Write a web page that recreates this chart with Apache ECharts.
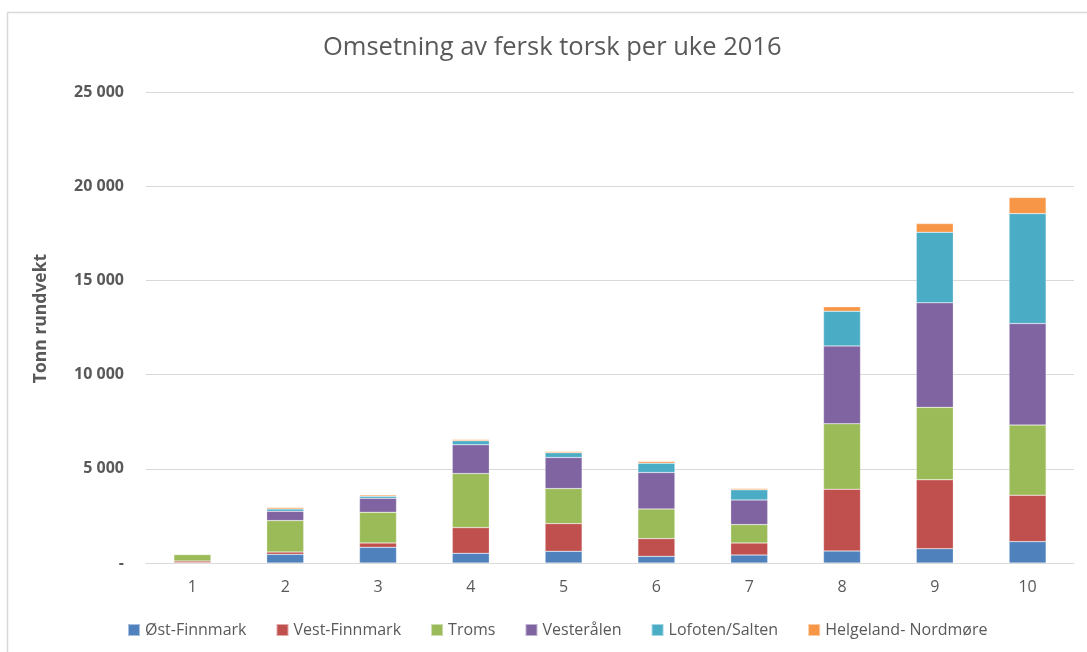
<!DOCTYPE html>
<html>
<head>
<meta charset="utf-8">
<script src="https://cdn.jsdelivr.net/npm/echarts@6/dist/echarts.min.js"></script>
<style>
html,body{margin:0;padding:0;background:#fff;}
#chart{width:1087px;height:652px;}
</style>
</head>
<body>
<div id="chart"></div>
<script>
const categories = ['1','2','3','4','5','6','7','8','9','10'];
const seriesNames = ['Øst-Finnmark','Vest-Finnmark','Troms','Vesterålen','Lofoten/Salten','Helgeland- Nordmøre'];
const ostFinnmark   = [10, 460, 833, 514, 620, 354, 425, 638, 762, 1135];
const vestFinnmark  = [90, 125, 230, 1365, 1470, 940, 638, 3280, 3652, 2465];
const troms         = [350, 1665, 1630, 2870, 1860, 1578, 975, 3475, 3848, 3723];
const vesteralen    = [30, 495, 745, 1525, 1650, 1932, 1312, 4131, 5550, 5390];
const lofotenSalten = [20, 125, 106, 212, 248, 496, 532, 1844, 3741, 5833];
const helgeland     = [20, 70, 70, 70, 70, 88, 70, 230, 461, 851];
const yTicks = [0, 5000, 10000, 15000, 20000, 25000];

const dataSets = [ostFinnmark, vestFinnmark, troms, vesteralen, lofotenSalten, helgeland];
const colors = ['#4F81BD','#C0504D','#9BBB59','#8064A2','#4BACC6','#F79646'];

const chart = echarts.init(document.getElementById('chart'));
chart.setOption({
  animation: false,
  color: colors,
  title: {
    text: 'Omsetning av fersk torsk per uke 2016',
    left: 318,
    top: 30,
    textStyle: { fontFamily: 'Open Sans', fontSize: 25.5, fontWeight: 'normal', color: '#595959' }
  },
  graphic: [{
    type: 'rect',
    shape: { x: 7.5, y: 12.5, width: 1100, height: 700 },
    style: { fill: 'none', stroke: '#D9D9D9', lineWidth: 1.5 },
    silent: true
  }],
  legend: {
    bottom: 9,
    left: 122,
    itemWidth: 12,
    itemHeight: 12,
    itemGap: 29,
    icon: 'rect',
    textStyle: { fontFamily: 'Open Sans', fontSize: 16, color: '#595959' },
    data: seriesNames
  },
  grid: { left: 146, right: 13, top: 92, bottom: 89 },
  xAxis: {
    type: 'category',
    data: categories,
    axisLine: { lineStyle: { color: '#D9D9D9' } },
    axisTick: { show: false },
    axisLabel: { fontFamily: 'Open Sans', fontSize: 16, color: '#595959', margin: 16 }
  },
  yAxis: {
    type: 'value',
    min: yTicks[0],
    max: yTicks[yTicks.length - 1],
    interval: 5000,
    name: 'Tonn rundvekt',
    nameLocation: 'middle',
    nameGap: 96,
    nameTextStyle: { fontFamily: 'Open Sans', fontSize: 17.5, fontWeight: 'bold', color: '#595959', padding: [0, 0, 0, 18] },
    axisLine: { show: false },
    axisTick: { show: false },
    splitLine: { lineStyle: { color: '#D9D9D9', width: 1 } },
    axisLabel: {
      fontFamily: 'Open Sans', fontSize: 16, fontWeight: 'bold', color: '#595959', margin: 22,
      formatter: v => v === 0 ? '-' : String(v).replace(/\B(?=(\d{3})+(?!\d))/g, ' ')
    }
  },
  series: seriesNames.map((n, i) => ({
    name: n,
    type: 'bar',
    stack: 'total',
    barWidth: 37,
    data: dataSets[i],
    itemStyle: { borderColor: 'rgba(255,255,255,0.5)', borderWidth: 0.5 }
  }))
});
</script>
</body>
</html>
